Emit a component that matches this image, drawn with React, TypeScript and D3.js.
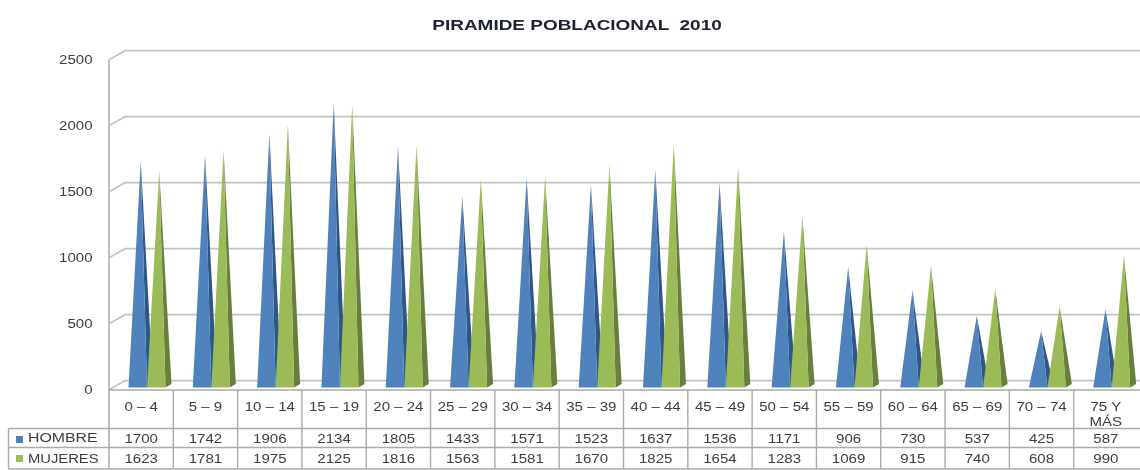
import React from "react";
import * as d3 from "d3";

const categories = ["0 – 4","5 – 9","10 – 14","15 – 19","20 – 24","25 – 29","30 – 34","35 – 39","40 – 44","45 – 49","50 – 54","55 – 59","60 – 64","65 – 69","70 – 74","75 Y|MÁS"];
const hombre = [1700,1742,1906,2134,1805,1433,1571,1523,1637,1536,1171,906,730,537,425,587];
const mujeres = [1623,1781,1975,2125,1816,1563,1581,1670,1825,1654,1283,1069,915,740,608,990];
const yTicks = [0,500,1000,1500,2000,2500];
const seriesNames = ["HOMBRE","MUJERES"];
const title = "PIRAMIDE POBLACIONAL  2010";

const FONT = "'Liberation Sans', Arial, sans-serif";
const GRID = "#c4c4c4";
const TXT = "#3c3c46";

const x = d3.scaleBand<string>().domain(categories).range([109, 1138]);
const yFront = d3.scaleLinear().domain([0, 2500]).range([389.7, 59.7]);
const yApex = d3.scaleLinear().domain([0, 2500]).range([387.5, 54.5]);

function Stretch({ x: px, y, sx = 1.14, size = 13.2, anchor = "middle", children, fill = TXT }: any) {
  return (
    <text transform={`translate(${px},${y}) scale(${sx},1)`} textAnchor={anchor} fontFamily={FONT} fontSize={size} fill={fill}>
      {children}
    </text>
  );
}

function Pyramid({ start, v, front, side }: { start: number; v: number; front: string; side: string }) {
  const base = 387.5;
  const w = 18.5;
  const ax = start + w / 2 + 3;
  const ay = yApex(v);
  const sideD = `M${start + w},${base}L${start + w + 6},${base - 3.5}L${ax},${ay}Z`;
  const frontD = `M${start},${base}L${start + w},${base}L${ax},${ay}Z`;
  return (
    <g>
      <path d={sideD} fill={side} />
      <path d={frontD} fill={front} />
    </g>
  );
}

export default function App() {
  const left = 109, right = 1140, dx = 16, dy = 9;
  const step = x.step();
  const tableTop = 390, r1 = 428.5, r2 = 447.5, tableBottom = 469;
  const nCat = categories.length;
  return (
    <svg width={1140} height={470} style={{ position: "absolute", left: 0, top: 0, background: "#fff" }}>
      <defs>
        <filter id="soft" x="-5%" y="-5%" width="110%" height="110%">
          <feGaussianBlur stdDeviation="0.45" />
        </filter>
      </defs>
      <g filter="url(#soft)">
        <text transform="translate(577,30) scale(1.265,1)" textAnchor="middle" fontFamily={FONT} fontWeight="bold" fontSize={15} fill="#1f2430" xmlSpace="preserve" style={{ whiteSpace: "pre" }}>{title}</text>

        {yTicks.map(t => (
          <g key={t}>
            <path d={`M${left},${yFront(t)}L${left + dx},${yFront(t) - dy}L${right},${yFront(t) - dy}`} fill="none" stroke={GRID} strokeWidth={1.7} />
            <Stretch x={92.5} y={yFront(t) + 4.7} anchor="end">{t}</Stretch>
          </g>
        ))}
        <line x1={left} x2={left} y1={yFront(2500)} y2={tableBottom} stroke="#b8b8b8" strokeWidth={1.8} />

        {categories.map((c, i) => {
          const s = x(c)!;
          return (
            <g key={c}>
              <Pyramid start={s + 19.5} v={hombre[i]} front="#4f81bd" side="#2d5687" />
              <Pyramid start={s + 38} v={mujeres[i]} front="#9bbb59" side="#687f3a" />
            </g>
          );
        })}

        {/* data table */}
        <line x1={left} x2={right} y1={tableTop} y2={tableTop} stroke="#aaa" strokeWidth={1.4} />
        {[r1, r2, tableBottom].map(r => (
          <line key={r} x1={8.5} x2={right} y1={r} y2={r} stroke="#aaa" strokeWidth={1.4} />
        ))}
        <line x1={8.5} x2={8.5} y1={r1} y2={tableBottom} stroke="#aaa" strokeWidth={1.4} />
        {categories.map((c, i) => {
          const s = x(c)!;
          const cx = s + step / 2;
          const lines = c.split("|");
          return (
            <g key={c}>
              {i < nCat - 1 && <line x1={s + step} x2={s + step} y1={tableTop} y2={tableBottom} stroke="#aaa" strokeWidth={1.4} />}
              {lines.length === 1
                ? <Stretch x={cx} y={410.5}>{c}</Stretch>
                : <>
                    <Stretch x={cx} y={410.5}>{lines[0]}</Stretch>
                    <Stretch x={cx} y={426}>{lines[1]}</Stretch>
                  </>}
              <Stretch x={cx} y={442.5}>{hombre[i]}</Stretch>
              <Stretch x={cx} y={462.5}>{mujeres[i]}</Stretch>
            </g>
          );
        })}
        <rect x={16} y={436} width={7} height={7} fill="#4f81bd" />
        <rect x={16} y={455} width={7} height={7} fill="#9bbb59" />
        <Stretch x={28} y={442} anchor="start" sx={1.2}>{seriesNames[0]}</Stretch>
        <Stretch x={28} y={462.5} anchor="start" sx={1.12}>{seriesNames[1]}</Stretch>
      </g>
    </svg>
  );
}
